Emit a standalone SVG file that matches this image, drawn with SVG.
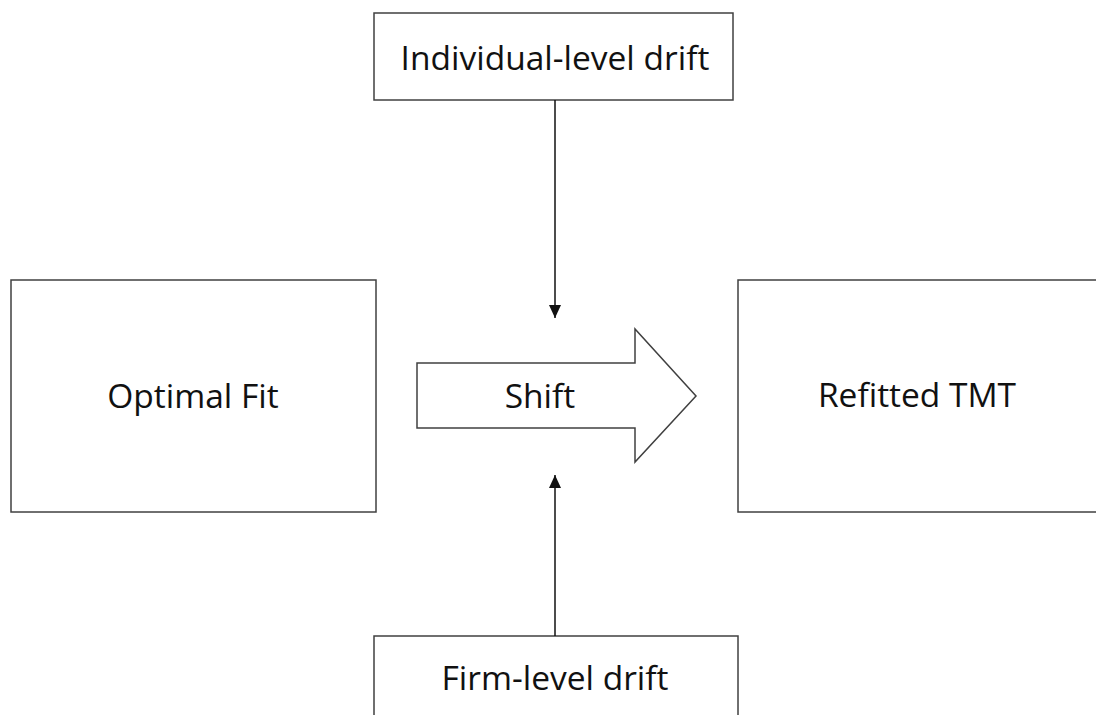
<svg xmlns="http://www.w3.org/2000/svg" width="1096" height="715" viewBox="0 0 1096 715">
<style>
.box{fill:#fff;stroke:#404040;stroke-width:1.5}
.lbl{font-family:"Open Sans","Noto Sans",sans-serif;font-size:33.5px;fill:#111;text-anchor:middle}
.conn{stroke:#111;stroke-width:1.5;fill:none}
</style>
<defs>
<marker id="ah" viewBox="0 0 10 10" refX="10" refY="5" markerWidth="13" markerHeight="12" markerUnits="userSpaceOnUse" orient="auto" preserveAspectRatio="none">
<path d="M0,0 L10,5 L0,10 Z" fill="#111"/>
</marker>
</defs>
<rect width="1096" height="715" fill="#fff"/>
<g id="individual">
<rect class="box" x="374" y="13" width="359" height="87"/>
<text class="lbl" x="555" y="70">Individual-level drift</text>
</g>
<g id="optimal">
<rect class="box" x="11" y="280" width="365" height="232"/>
<text class="lbl" x="193" y="408">Optimal Fit</text>
</g>
<g id="shift">
<path class="box" d="M417,363 L635,363 L635,329 L696,396 L635,462 L635,428 L417,428 Z"/>
<text class="lbl" x="540" y="408">Shift</text>
</g>
<g id="refitted">
<rect class="box" x="738" y="280" width="370" height="232"/>
<text class="lbl" x="917" y="407">Refitted TMT</text>
</g>
<g id="firm">
<rect class="box" x="374" y="636" width="364" height="100"/>
<text class="lbl" x="555" y="690">Firm-level drift</text>
</g>
<g id="connectors">
<line class="conn" x1="555" y1="100" x2="555" y2="318" marker-end="url(#ah)"/>
<line class="conn" x1="555" y1="636" x2="555" y2="475" marker-end="url(#ah)"/>
</g>
</svg>
